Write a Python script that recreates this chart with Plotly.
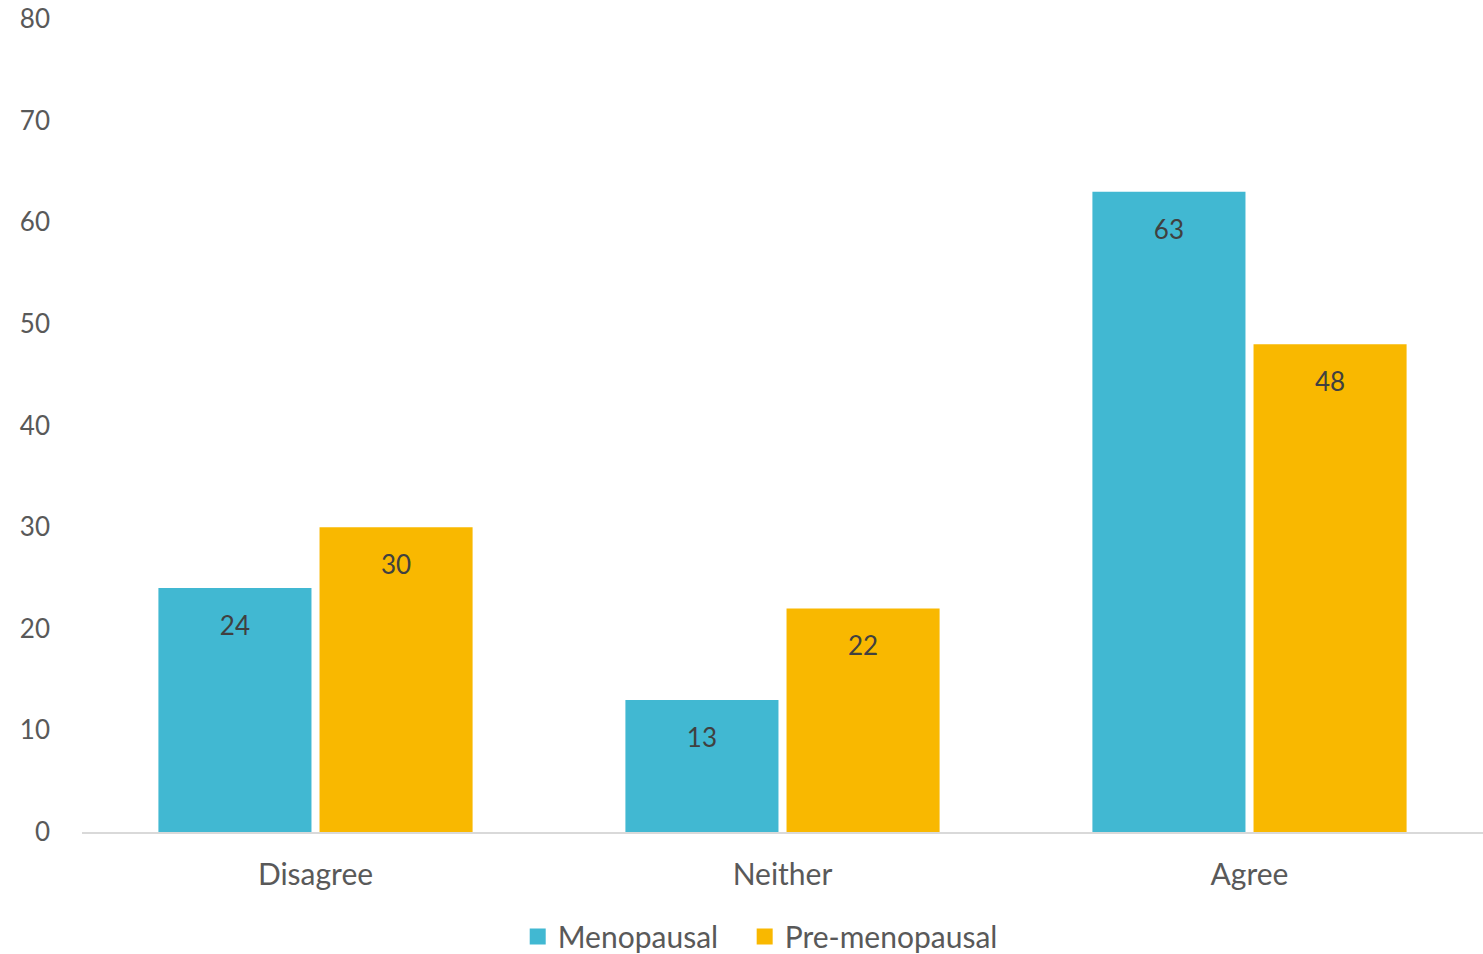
import plotly.graph_objects as go

categories = ["Disagree", "Neither", "Agree"]
menopausal = [24, 13, 63]
pre_menopausal = [30, 22, 48]
series_names = ["Menopausal", "Pre-menopausal"]
y_ticks = [0, 10, 20, 30, 40, 50, 60, 70, 80]

FONT = "Lato, 'Open Sans', sans-serif"
colors = ["#41B8D2", "#F9B800"]
groups = ["g1", "g2"]
legends = ["legend", "legend2"]

fig = go.Figure()
for name, vals, col, g in zip(series_names, [menopausal, pre_menopausal], colors, groups):
    fig.add_trace(go.Bar(
        x=categories, y=vals, name=name, showlegend=False, offsetgroup=g,
        marker=dict(color=col, line=dict(width=0)),
    ))
# data labels, grouped like the bars
for name, vals, g in zip(series_names, [menopausal, pre_menopausal], groups):
    fig.add_trace(go.Scatter(
        x=categories, y=vals, mode="markers+text", text=[str(v) for v in vals],
        textposition="bottom center", showlegend=False, hoverinfo="skip",
        offsetgroup=g, marker=dict(size=42, opacity=0),
        textfont=dict(family=FONT, size=26, color="#404040"),
    ))
# legend entries
for name, col, g, lg in zip(series_names, colors, groups, legends):
    fig.add_trace(go.Scatter(
        x=[None], y=[None], mode="markers", name=name, offsetgroup=g, legend=lg,
        marker=dict(symbol="square", size=16, color=col),
    ))

leg_common = dict(orientation="h", xanchor="left", yref="container", y=0.0457, yanchor="top",
                  font=dict(family=FONT, size=30, color="#595959"), itemsizing="trace")
fig.update_layout(
    width=1483, height=954,
    margin=dict(l=82, r=0, t=19, b=122),
    paper_bgcolor="white", plot_bgcolor="white",
    barmode="group", bargap=0.31, bargroupgap=0.05,
    scattermode="group", scattergap=0.31,
    font=dict(family=FONT, size=26, color="#595959"),
    showlegend=True,
    legend=dict(x=0.311, **leg_common),
    legend2=dict(x=0.473, **leg_common),
)
fig.update_xaxes(showgrid=False, showline=True, linecolor="#D9D9D9", linewidth=2,
                 ticks="", ticklabelstandoff=15,
                 tickfont=dict(family=FONT, size=30, color="#595959"))
fig.update_yaxes(range=[0, 80], tickvals=y_ticks, showgrid=False, zeroline=False,
                 showline=False, ticks="", ticklabelstandoff=31,
                 tickfont=dict(family=FONT, size=26, color="#595959"))

fig.write_html("out.html", config={"displayModeBar": False},
               post_script="document.body.style.margin='0';document.body.style.overflow='hidden';")
